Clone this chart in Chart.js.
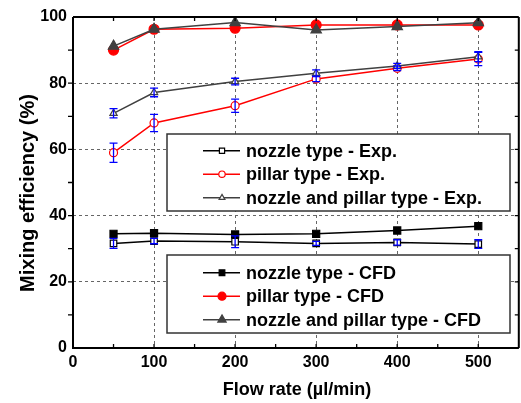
<!DOCTYPE html>
<html>
<head>
<meta charset="utf-8">
<script src="https://cdn.jsdelivr.net/npm/chart.js@4"></script>
<style>
  html, body { margin: 0; padding: 0; background: #fff; overflow: hidden; }
  canvas { display: block; }
</style>
</head>
<body>
<canvas id="chart" width="526" height="403"></canvas>
<script>
const flowRates = [50, 100, 200, 300, 400, 500];

const nozzleExp = [31.6, 32.3, 32.1, 31.6, 31.9, 31.4];
const nozzleExpErr = [1.5, 0.8, 1.8, 0.6, 0.8, 1.3];
const pillarExp = [59.0, 68.0, 73.2, 81.3, 84.5, 87.3];
const pillarExpErr = [2.9, 2.6, 2.0, 0.8, 0.7, 2.0];
const bothExp = [70.9, 77.2, 80.5, 83.0, 85.2, 88.0];
const bothExpErr = [1.4, 1.3, 1.0, 1.0, 0.8, 1.5];

const nozzleCfd = [34.5, 34.7, 34.3, 34.5, 35.5, 36.8];
const pillarCfd = [90.0, 96.3, 96.6, 97.6, 97.6, 97.6];
const bothCfd = [91.2, 96.3, 98.3, 96.1, 97.1, 98.3];

const FONT = 'Arial, "Liberation Sans", sans-serif';
const RED = "#ff0000";
const GREY = "#404040";

const pts = (ys) => ys.map((y, i) => ({ x: flowRates[i], y }));

function series(label, ys, color, style, radius, filled, order, errors) {
  return {
    label,
    data: pts(ys),
    borderColor: color,
    backgroundColor: filled ? color : "#fff",
    pointBackgroundColor: filled ? color : "#fff",
    pointBorderColor: color,
    pointStyle: style,
    pointRadius: radius,
    pointBorderWidth: 1.2,
    borderWidth: 1.5,
    order,
    errors,
  };
}

// error bars from the errors arrays, drawn through the y scale
const errorBars = {
  id: "errorBars",
  afterDatasetsDraw(chart) {
    const ctx = chart.ctx;
    const y = chart.scales.y;
    ctx.save();
    ctx.strokeStyle = "#0000ff";
    ctx.lineWidth = 1.3;
    chart.data.datasets.forEach((ds, di) => {
      if (!ds.errors) return;
      const meta = chart.getDatasetMeta(di);
      meta.data.forEach((pt, i) => {
        const v = ds.data[i].y, e = ds.errors[i];
        const top = y.getPixelForValue(v + e);
        const bot = y.getPixelForValue(v - e);
        ctx.beginPath();
        ctx.moveTo(pt.x, top); ctx.lineTo(pt.x, bot);
        ctx.moveTo(pt.x - 4, top); ctx.lineTo(pt.x + 4, top);
        ctx.moveTo(pt.x - 4, bot); ctx.lineTo(pt.x + 4, bot);
        ctx.stroke();
      });
    });
    ctx.restore();
  },
};

// two legend boxes inside the plot
const legendBoxes = {
  id: "legendBoxes",
  afterDatasetsDraw(chart, args, opts) {
    const ctx = chart.ctx;
    opts.boxes.forEach((box) => {
      ctx.save();
      ctx.fillStyle = "#fff";
      ctx.fillRect(box.x, box.y, box.w, box.h);
      ctx.strokeStyle = "#333";
      ctx.lineWidth = 1.5;
      ctx.strokeRect(box.x, box.y, box.w, box.h);
      box.items.forEach((di, k) => {
        const ds = chart.data.datasets[di];
        const cy = box.y + box.first + k * box.gap;
        ctx.strokeStyle = ds.borderColor;
        ctx.lineWidth = 1.5;
        ctx.beginPath();
        ctx.moveTo(box.x + 36, cy);
        ctx.lineTo(box.x + 73, cy);
        ctx.stroke();
        ctx.fillStyle = ds.pointBackgroundColor;
        ctx.lineWidth = 1.2;
        Chart.helpers.drawPoint(ctx, {
          pointStyle: ds.pointStyle,
          radius: ds.pointRadius * 0.8,
          rotation: 0,
          borderWidth: 1.2,
        }, box.x + 55, cy);
        ctx.fillStyle = "#000";
        ctx.font = "bold 18px " + FONT;
        ctx.textBaseline = "middle";
        ctx.textAlign = "left";
        ctx.fillText(ds.label, box.x + 79, cy + 1);
      });
      ctx.restore();
    });
  },
};

// axes frame with minor ticks, and axis titles
const frame = {
  id: "frame",
  afterDraw(chart) {
    const ctx = chart.ctx;
    const { left, right, top, bottom } = chart.chartArea;
    const x = chart.scales.x, y = chart.scales.y;
    ctx.save();
    ctx.strokeStyle = "#000";
    ctx.lineWidth = 2;
    ctx.beginPath();
    ctx.moveTo(left, top); ctx.lineTo(right, top);
    ctx.moveTo(left, top); ctx.lineTo(left, bottom); ctx.lineTo(right, bottom);
    ctx.moveTo(right, top); ctx.lineTo(right, bottom);
    ctx.stroke();
    ctx.lineWidth = 1.3;
    ctx.beginPath();
    for (let v = 10; v < 100; v += 10) {
      const py = y.getPixelForValue(v);
      ctx.moveTo(left - 5, py); ctx.lineTo(left, py);
      ctx.moveTo(right - 4, py); ctx.lineTo(right, py);
    }
    for (let v = 50; v < 550; v += 50) {
      const px = x.getPixelForValue(v);
      ctx.moveTo(px, bottom); ctx.lineTo(px, bottom - 4);
      ctx.moveTo(px, top); ctx.lineTo(px, top + 4);
    }
    ctx.stroke();

    ctx.fillStyle = "#000";
    ctx.textAlign = "center";
    ctx.textBaseline = "middle";
    ctx.font = "bold 18px " + FONT;
    ctx.fillText("Flow rate (\u00b5l/min)", 297, 390);
    ctx.font = "bold 20px " + FONT;
    ctx.translate(28, 193);
    ctx.rotate(-Math.PI / 2);
    ctx.fillText("Mixing efficiency (%)", 0, 0);
    ctx.restore();
  },
};

new Chart(document.getElementById("chart"), {
  type: "line",
  data: {
    datasets: [
      series("nozzle type - Exp.", nozzleExp, "#000", "rect", 4.6, false, 5, nozzleExpErr),
      series("pillar type - Exp.", pillarExp, RED, "circle", 4, false, 4, pillarExpErr),
      series("nozzle and pillar type - Exp.", bothExp, GREY, "triangle", 4.2, false, 3, bothExpErr),
      series("nozzle type - CFD", nozzleCfd, "#000", "rect", 5, true, 2),
      series("pillar type - CFD", pillarCfd, RED, "circle", 5, true, 1),
      series("nozzle and pillar type - CFD", bothCfd, GREY, "triangle", 6, true, 0),
    ],
  },
  options: {
    responsive: false,
    animation: false,
    layout: { padding: { top: 17, right: 2, left: 0, bottom: 0 } },
    plugins: {
      legend: { display: false },
      tooltip: { enabled: false },
      legendBoxes: {
        boxes: [
          { x: 167, y: 134, w: 343, h: 77, first: 16.7, gap: 23.5, items: [0, 1, 2] },
          { x: 167, y: 255, w: 343, h: 78, first: 17.7, gap: 23.5, items: [3, 4, 5] },
        ],
      },
    },
    scales: {
      x: {
        type: "linear",
        min: 0,
        max: 550,
        afterFit: (s) => { s.height = 55; },
        ticks: {
          stepSize: 100,
          includeBounds: false,
          padding: 5,
          color: "#000",
          font: { family: FONT, size: 16, weight: "bold" },
        },
        grid: { color: "#666", lineWidth: 1, drawTicks: false },
        border: { display: false, dash: [3, 3] },
      },
      y: {
        min: 0,
        max: 100,
        afterFit: (s) => { s.width = 73; },
        ticks: {
          stepSize: 20,
          padding: 6,
          color: "#000",
          font: { family: FONT, size: 16, weight: "bold" },
        },
        grid: { color: "#666", lineWidth: 1, drawTicks: false },
        border: { display: false, dash: [3, 3] },
      },
    },
  },
  plugins: [errorBars, legendBoxes, frame],
});
</script>
</body>
</html>
